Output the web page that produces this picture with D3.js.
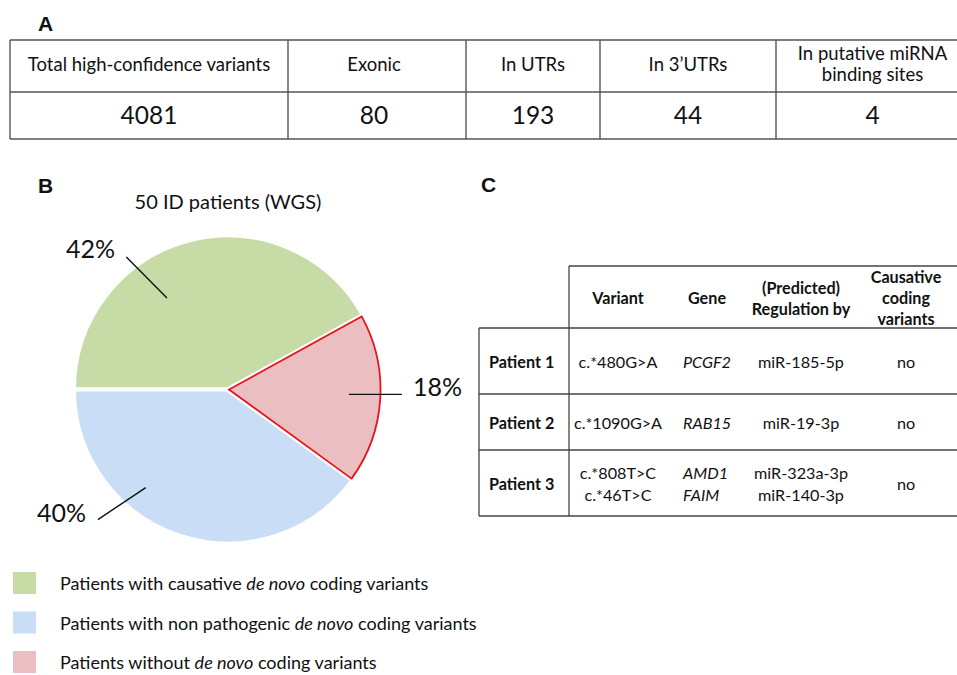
<!DOCTYPE html>
<html><head><meta charset="utf-8">
<script src="https://cdn.jsdelivr.net/npm/d3@7"></script>
<style>
html,body{margin:0;padding:0;background:#fff;}
svg{display:block;}
text{font-family:Lato,"Open Sans",sans-serif;fill:#111;}
</style></head>
<body>
<script>
// ---------- DATA ----------
const summaryHeaders = ["Total high-confidence variants", "Exonic", "In UTRs", "In 3’UTRs", "In putative miRNA|binding sites"];
const summaryValues = [4081, 80, 193, 44, 4];

const pieTitle = "50 ID patients (WGS)";
const pieCategories = ["causative", "without", "nonpathogenic"];
const pieValues = [42, 18, 40];
const pieLabels = ["42%", "18%", "40%"];

const legendCategories = ["causative", "nonpathogenic", "without"];
const legendTexts = [
  ["Patients with causative ", "de novo", " coding variants"],
  ["Patients with non pathogenic ", "de novo", " coding variants"],
  ["Patients without ", "de novo", " coding variants"]
];

const tableCHeaders = [["Variant"], ["Gene"], ["(Predicted)", "Regulation by"], ["Causative", "coding", "variants"]];
const patients = ["Patient 1", "Patient 2", "Patient 3"];
const variants = [["c.*480G>A"], ["c.*1090G>A"], ["c.*808T>C", "c.*46T>C"]];
const genes = [["PCGF2"], ["RAB15"], ["AMD1", "FAIM"]];
const regulators = [["miR-185-5p"], ["miR-19-3p"], ["miR-323a-3p", "miR-140-3p"]];
const causative = ["no", "no", "no"];

// ---------- SETUP ----------
const W = 957, H = 675;
const svg = d3.select("body").append("svg").attr("width", W).attr("height", H);
const lineCol = "#555";

function panelLabel(t, x, y) {
  svg.append("text").attr("x", x).attr("y", y).text(t)
    .style("font-family", "'Liberation Sans',Arial,sans-serif")
    .style("font-weight", "bold").style("font-size", "21px");
}

// ---------- PANEL A ----------
panelLabel("A", 38, 31);
const colEdgesA = [10, 288, 466, 600, 776, 969];
const gA = svg.append("g");
const yTopA = 40, yMidA = 92, yBotA = 139;
[yTopA, yMidA, yBotA].forEach(y => gA.append("line").attr("x1", 10).attr("x2", 969).attr("y1", y).attr("y2", y)
  .attr("stroke", lineCol).attr("stroke-width", 1.4));
colEdgesA.forEach(x => gA.append("line").attr("x1", x).attr("x2", x).attr("y1", yTopA).attr("y2", yBotA)
  .attr("stroke", lineCol).attr("stroke-width", 1.4));
summaryHeaders.forEach((h, i) => {
  const cx = (colEdgesA[i] + colEdgesA[i + 1]) / 2 - (i === 1 ? 3 : 0);
  const lines = h.split("|");
  const t = gA.append("text").attr("x", cx).attr("text-anchor", "middle").style("font-size", "18.5px");
  lines.forEach((l, j) => {
    t.append("tspan").attr("x", cx)
      .attr("y", lines.length === 1 ? 71 : 60 + j * 21).text(l);
  });
});
summaryValues.forEach((v, i) => {
  const cx = (colEdgesA[i] + colEdgesA[i + 1]) / 2 - (i === 1 ? 3 : 0);
  gA.append("text").attr("x", cx).attr("y", 124).attr("text-anchor", "middle")
    .style("font-size", "24.5px").text(v);
});

// ---------- PANEL B ----------
panelLabel("B", 38, 193);
const color = d3.scaleOrdinal().domain(["causative", "nonpathogenic", "without"])
  .range(["#c6dba6", "#c9def6", "#ebbec2"]);
svg.append("text").attr("x", 228).attr("y", 209).attr("text-anchor", "middle")
  .style("font-size", "20px").text(pieTitle);

const cx = 228, cy = 389.5, R = 154;
const pie = d3.pie().sort(null).value(d => d.v).startAngle(-Math.PI / 2).endAngle(1.5 * Math.PI);
const arcs = pie(pieCategories.map((c, i) => ({c, v: pieValues[i], label: pieLabels[i]})));
const arcGen = d3.arc().innerRadius(0).outerRadius(R);
const gB = svg.append("g").attr("transform", `translate(${cx},${cy})`);
arcs.filter(a => a.data.c !== "without").forEach(a => {
  gB.append("path").attr("d", arcGen(a)).attr("fill", color(a.data.c))
    .attr("stroke", "#fff").attr("stroke-width", 4).attr("stroke-linejoin", "round");
});
// highlighted slice
const redArc = d3.arc().innerRadius(0).outerRadius(R - 2.5);
arcs.filter(a => a.data.c === "without").forEach(a => {
  const mid = (a.startAngle + a.endAngle) / 2;
  const off = 1;
  const g = gB.append("g").attr("transform", `translate(${Math.sin(mid) * off},${-Math.cos(mid) * off})`);
  g.append("path").attr("d", redArc(a)).attr("fill", "none").attr("stroke", "#fff").attr("stroke-width", 6)
    .attr("stroke-linejoin", "miter");
  g.append("path").attr("d", redArc(a)).attr("fill", color(a.data.c))
    .attr("stroke", "#e8141c").attr("stroke-width", 1.8).attr("stroke-linejoin", "miter");
});

// leader lines & labels (polar: angle in degrees clockwise from 12 o'clock)
const leaderGeom = {
  causative: {a1: -33.7, r1: 110, a2: -37.5, r2: 167, tx: -113, ty: -142, anchor: "end"},
  without: {a1: 92.3, r1: 121, a2: 91.6, r2: 174, tx: 185, ty: -4, anchor: "start"},
  nonpathogenic: {a1: -140, r1: 128, a2: -135, r2: 184, tx: -142, ty: 122, anchor: "end"}
};
const pol = (a, r) => [Math.sin(a * Math.PI / 180) * r, -Math.cos(a * Math.PI / 180) * r];
arcs.forEach(a => {
  const g = leaderGeom[a.data.c];
  const p1 = pol(g.a1, g.r1), p2 = pol(g.a2, g.r2);
  gB.append("line").attr("x1", p1[0]).attr("y1", p1[1]).attr("x2", p2[0]).attr("y2", p2[1])
    .attr("stroke", "#111").attr("stroke-width", 1.4);
  gB.append("text").attr("x", g.tx).attr("y", g.ty).attr("text-anchor", g.anchor)
    .attr("dominant-baseline", "central").style("font-size", "25px").text(a.data.label);
});

// legend
const legY = d3.scalePoint().domain(legendCategories).range([583, 662]);
legendCategories.forEach((c, i) => {
  const y = legY(c);
  svg.append("rect").attr("x", 13).attr("y", y - 11).attr("width", 23).attr("height", 22).attr("fill", color(c));
  const t = svg.append("text").attr("x", 60).attr("y", y).attr("dominant-baseline", "central").style("font-size", "18px");
  legendTexts[i].forEach((s, j) => t.append("tspan").text(s).style("font-style", j === 1 ? "italic" : "normal"));
});

// ---------- PANEL C ----------
panelLabel("C", 481, 192);
const gC = svg.append("g");
const xLeft = 479, xSep = 569, xRight = 969;
const yHeadTop = 266, rowEdges = [328, 394, 450, 516];
const colCenters = [618, 707, 801, 906];
const ln = (x1, y1, x2, y2) => gC.append("line").attr("x1", x1).attr("y1", y1).attr("x2", x2).attr("y2", y2)
  .attr("stroke", "#444").attr("stroke-width", 1.3);
ln(xSep, yHeadTop, xRight, yHeadTop);
rowEdges.forEach(y => ln(xLeft, y, xRight, y));
ln(xSep, yHeadTop, xSep, rowEdges[3]);
ln(xLeft, rowEdges[0], xLeft, rowEdges[3]);

const fsC = "16.2px";
function multiLine(x, yc, lines, style, lh) {
  const t = gC.append("text").attr("text-anchor", "middle").attr("dominant-baseline", "central").style("font-size", fsC);
  if (style) Object.entries(style).forEach(([k, v]) => t.style(k, v));
  const n = lines.length;
  lines.forEach((l, j) => t.append("tspan").attr("x", x).attr("y", yc + (j - (n - 1) / 2) * lh).text(l));
  return t;
}
tableCHeaders.forEach((h, i) => multiLine(colCenters[i], 297, h, {"font-weight": "bold"}, 21));
patients.forEach((p, r) => {
  const yc = (rowEdges[r] + rowEdges[r + 1]) / 2;
  gC.append("text").attr("x", 489).attr("y", yc).attr("dominant-baseline", "central")
    .style("font-size", fsC).style("font-weight", "bold").text(p);
  multiLine(colCenters[0], yc, variants[r], null, 21.5);
  multiLine(colCenters[1], yc, genes[r], {"font-style": "italic"}, 21.5).attr("text-anchor", "start")
    .selectAll("tspan").attr("x", 683);
  multiLine(colCenters[2], yc, regulators[r], null, 21.5);
  multiLine(colCenters[3], yc, [causative[r]], null, 21.5);
});
</script>
</body></html>
